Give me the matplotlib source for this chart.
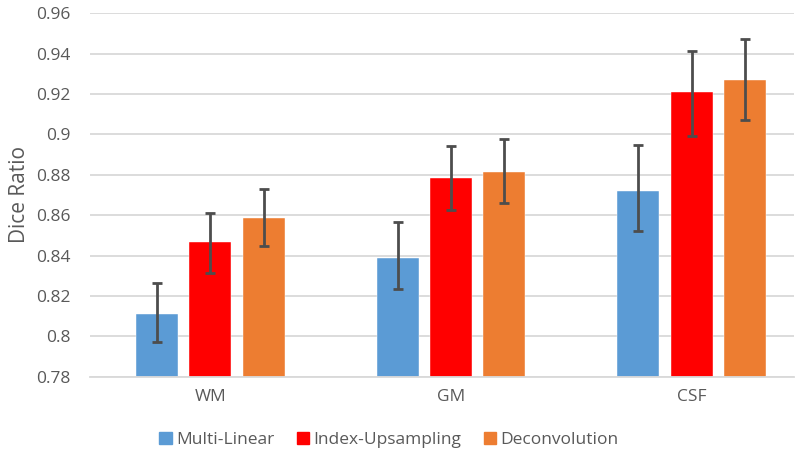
import numpy as np
import matplotlib
matplotlib.use("Agg")
import matplotlib.pyplot as plt
from matplotlib.patches import Patch

plt.rcParams['font.family'] = ['Open Sans', 'DejaVu Sans']

# data
regions = ['WM', 'GM', 'CSF']
series = ['Multi-Linear', 'Index-Upsampling', 'Deconvolution']
means = {
    'Multi-Linear': [0.811, 0.839, 0.872],
    'Index-Upsampling': [0.8466, 0.8786, 0.9209],
    'Deconvolution': [0.8586, 0.8815, 0.9271],
}
err_low = {
    'Multi-Linear': [0.797, 0.8234, 0.852],
    'Index-Upsampling': [0.8312, 0.8624, 0.899],
    'Deconvolution': [0.8449, 0.866, 0.907],
}
err_high = {
    'Multi-Linear': [0.8263, 0.8565, 0.895],
    'Index-Upsampling': [0.8612, 0.8941, 0.9413],
    'Deconvolution': [0.873, 0.8977, 0.9473],
}
colors = {'Multi-Linear': '#5B9BD5', 'Index-Upsampling': '#FF0000', 'Deconvolution': '#ED7D31'}

fig = plt.figure(figsize=(8, 4.65), dpi=100)
ax = fig.add_axes([0.1125, 0.19, 0.88, 0.7814])

x = np.arange(len(regions))
width = 0.1745
offsets = [-0.222, 0.0, 0.222]
text_col = '#595959'

for s, off in zip(series, offsets):
    m = np.array(means[s])
    lo = m - np.array(err_low[s])
    hi = np.array(err_high[s]) - m
    ax.bar(x + off, m - 0.78, width, bottom=0.78, color=colors[s], zorder=2,
           edgecolor='white', linewidth=0.3)
    ax.errorbar(x + off, m, yerr=[lo, hi], fmt='none', ecolor='#4D4D4D',
                elinewidth=2, capsize=3.8, capthick=2, zorder=3)

ax.set_ylim(0.78, 0.96)
ax.set_yticks(np.arange(0.78, 0.9601, 0.02))
ax.set_yticklabels(['0.78', '0.8', '0.82', '0.84', '0.86', '0.88', '0.9', '0.92', '0.94', '0.96'])
ax.set_xlim(-0.5, 2.425)
ax.set_xticks(x)
ax.set_xticklabels(regions)

ax.yaxis.grid(True, color='#D9D9D9', linewidth=1.3, zorder=0)
ax.set_axisbelow(True)
for sp in ['top', 'right', 'left']:
    ax.spines[sp].set_visible(False)
ax.spines['bottom'].set_color('#D9D9D9')
ax.spines['bottom'].set_linewidth(1.3)
ax.tick_params(axis='y', length=0, pad=14, labelsize=12.5, labelcolor=text_col)
ax.tick_params(axis='x', length=0, pad=9, labelsize=12.5, labelcolor=text_col)
ax.set_ylabel('Dice Ratio', fontsize=15, color=text_col, labelpad=4)

handles = [Patch(color=colors[s]) for s in series]
fig.legend(handles, series, loc='center', bbox_to_anchor=(0.486, 0.054), ncol=3,
           frameon=False, handlelength=0.7, handleheight=0.7, handletextpad=0.25,
           columnspacing=1.3, fontsize=12.5, labelcolor=text_col)

fig.savefig('out.png', dpi=100)
